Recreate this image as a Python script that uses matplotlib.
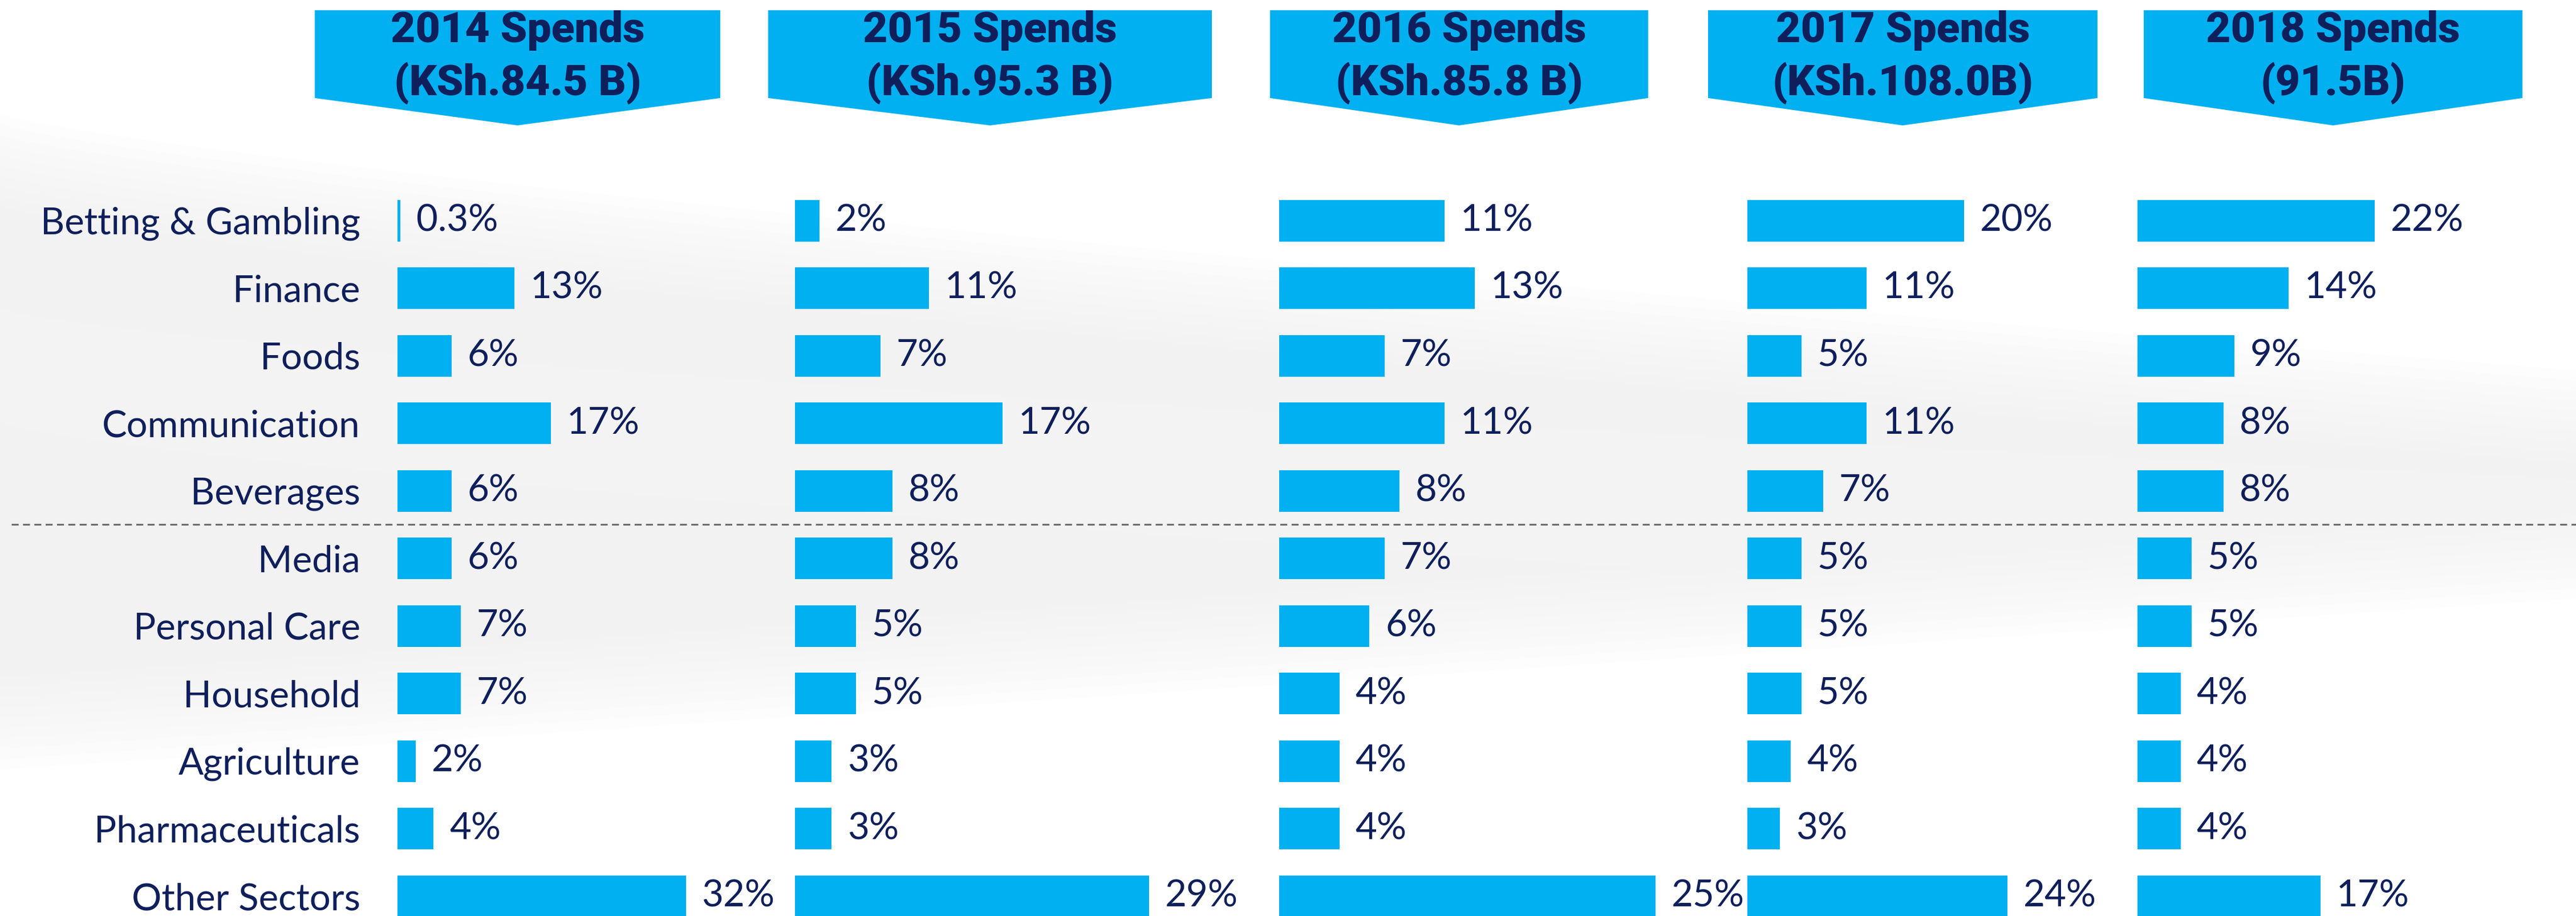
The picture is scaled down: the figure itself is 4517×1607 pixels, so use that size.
import matplotlib
matplotlib.use("Agg")
import matplotlib.pyplot as plt
from matplotlib.patches import Polygon
import numpy as np

# ---------------- data ----------------
categories = ["Betting & Gambling", "Finance", "Foods", "Communication", "Beverages",
              "Media", "Personal Care", "Household", "Agriculture", "Pharmaceuticals",
              "Other Sectors"]
headers = ["2014 Spends\n(KSh.84.5 B)", "2015 Spends\n(KSh.95.3 B)", "2016 Spends\n(KSh.85.8 B)",
           "2017 Spends\n(KSh.108.0B)", "2018 Spends\n(91.5B)"]
share_2014 = [0.3, 13, 6, 17, 6, 6, 7, 7, 2, 4, 32]
share_2015 = [2, 11, 7, 17, 8, 8, 5, 5, 3, 3, 29]
share_2016 = [11, 13, 7, 11, 8, 7, 6, 4, 4, 4, 25]
share_2017 = [20, 11, 5, 11, 7, 5, 5, 5, 4, 3, 24]
share_2018 = [22, 14, 9, 8, 8, 5, 5, 4, 4, 4, 17]
series = [share_2014, share_2015, share_2016, share_2017, share_2018]

# ---------------- layout (pixels) ----------------
W, H = 4517, 1607
DPI = 100
CYAN = "#00B0F0"
NAVY = "#0E1F5B"
FONT = "Lato"
FS = 47

panel_left_px = [697, 1394, 2243, 3064, 3748]
px_per_pct = [15.8, 21.4, 26.4, 19.0, 18.9]
panel_w_px = 900
row0_px, row_step_px = 387, 118.5
bar_h = 73 / row_step_px

box_x = [(552, 1263), (1347, 2125), (2227, 2890), (2995, 3678), (3759, 4423)]
box_top, box_side, box_tip = 18, 172, 220

fig = plt.figure(figsize=(W / DPI, H / DPI), dpi=DPI)
fig.patch.set_facecolor("white")

# very subtle, soft-edged background swooshes
bg = fig.add_axes([0, 0, 1, 1], zorder=-10)
bg.set_xlim(0, W)
bg.set_ylim(H, 0)
bg.axis("off")
xs = np.linspace(0, W, 200)
t = xs / W
for i in range(10):
    upper = 200 + 450 * t ** 0.8 + i * 18
    lower = 1350 - 300 * t - i * 18
    bg.fill_between(xs, upper, lower, color="#e9e9e9", alpha=0.06, lw=0)
for i in range(8):
    band_a = 540 + 300 * t ** 0.7 + i * 10
    band_b = band_a + 200 + 60 * t - i * 20
    bg.fill_between(xs, band_a, band_b, color="white", alpha=0.08, lw=0)

ymax = (H - row0_px) / row_step_px
ymin = -row0_px / row_step_px
ypos = np.arange(len(categories))

for k, (vals, left, sc) in enumerate(zip(series, panel_left_px, px_per_pct)):
    ax = fig.add_axes([left / W, 0, panel_w_px / W, 1])
    ax.patch.set_alpha(0)
    bars = ax.barh(ypos, vals, height=bar_h, color=CYAN, zorder=3)
    ax.set_xlim(0, panel_w_px / sc)
    ax.set_ylim(ymax, ymin)
    for s in ax.spines.values():
        s.set_visible(False)
    ax.set_xticks([])
    labels = [(f"{v:g}%") for v in vals]
    ax.bar_label(bars, labels=labels, padding=20, fontsize=FS, color=NAVY,
                 family=FONT)
    if k == 0:
        ax.set_yticks(ypos)
        ax.set_yticklabels(categories, fontsize=FS, color=NAVY, family=FONT)
        ax.tick_params(axis="y", length=0, pad=47)
    else:
        ax.set_yticks([])

# dashed separator between Beverages and Media
sep = fig.add_axes([0, 0, 1, 1], zorder=-5)
sep.set_xlim(0, W)
sep.set_ylim(ymax, ymin)
sep.axis("off")
sep.axhline(4.5, xmin=20 / W, xmax=1, color="#6b6b6b", lw=2.2, ls=(0, (4, 2.5)))

# header chevron boxes
hdr = fig.add_axes([0, 0, 1, 1], zorder=5)
hdr.set_xlim(0, W)
hdr.set_ylim(H, 0)
hdr.axis("off")
for (x0, x1), title in zip(box_x, headers):
    xc = (x0 + x1) / 2
    poly = Polygon([(x0, box_top), (x1, box_top), (x1, box_side), (xc, box_tip),
                    (x0, box_side)], closed=True, fc=CYAN, ec="none")
    hdr.add_patch(poly)
    l1, l2 = title.split("\n")
    hdr.text(xc, 74, l1, ha="center", va="baseline", fontsize=54, fontweight="heavy",
             color=NAVY, family="Roboto")
    hdr.text(xc, 167, l2, ha="center", va="baseline", fontsize=54, fontweight="heavy",
             color=NAVY, family="Roboto")

fig.savefig("out.png", dpi=DPI, facecolor=fig.get_facecolor())
